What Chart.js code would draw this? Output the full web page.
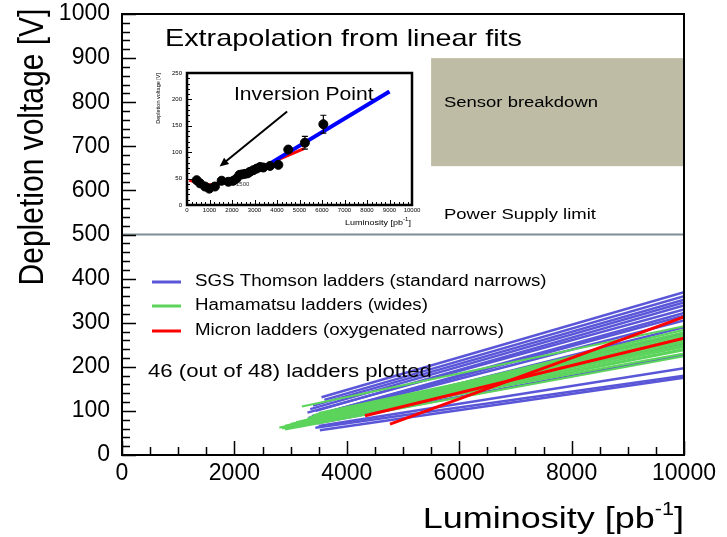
<!DOCTYPE html>
<html>
<head>
<meta charset="utf-8">
<script src="https://cdn.jsdelivr.net/npm/chart.js@4.4.0/dist/chart.umd.min.js"></script>
<style>
  html, body { margin: 0; padding: 0; background: #fff; }
  #wrap { position: relative; width: 727px; height: 537px; overflow: hidden; }
  #main { position: absolute; left: 0; top: 0; }
  #inset { position: absolute; left: 150px; top: 60px; }
</style>
</head>
<body>
<div id="wrap">
  <canvas id="main" width="727" height="537"></canvas>
  <canvas id="inset" width="275" height="172"></canvas>
</div>
<script>
// ---- main plot data: each ladder fit is [start luminosity, start voltage, voltage at 10000 pb-1]
const lumiEnd = 10000;
const sgsLadders = [
  [3550, 131, 369], [3600, 125, 360], [3400, 112, 352], [3350, 104, 346],
  [3450, 100, 339], [3300, 96, 330], [3500, 92, 322], [3380, 88, 316],
  [3320, 84, 305], [3450, 80, 290], [3500, 76, 276], [3400, 82, 252],
  [3470, 72, 227], [3500, 66, 197], [3440, 62, 180], [3520, 56, 175]
];
const hamamatsuLadders = [
  [2800, 62, 250], [2850, 60, 238], [2900, 66, 262], [2950, 64, 245],
  [3000, 70, 273], [3050, 68, 255], [3100, 74, 284], [3150, 72, 230],
  [3200, 110, 292], [3250, 78, 266], [3300, 82, 278], [3350, 86, 248],
  [3400, 90, 258], [2900, 58, 224], [3000, 63, 240], [3500, 95, 270]
];
const micronLadders = [
  [4324, 89, 265], [4769, 70, 313]
];
const powerSupplyLimit = 500;
const sensorBreakdown = { lumiFrom: 5500, lumiTo: 10000, vFrom: 655, vTo: 900 };

// ---- inset data
const insetLumi = [430, 580, 800, 990, 1240, 1540, 1840, 2060, 2200, 2330, 2450, 2580, 2700, 2800, 2950, 3100, 3250, 3390, 3690, 4060, 4500, 5240, 6060];
const insetVdep = [47, 41, 35, 31, 35, 46, 44, 46, 50, 57, 58, 59, 60, 63, 66, 69, 72, 71, 74, 76, 105, 118, 153];
const insetErr  = [3, 3, 3, 3, 3, 3, 3, 3, 3, 3, 3, 3, 3, 3, 3, 3, 3, 3, 3, 3, 5, 12, 17];
const redFitLumi = [100, 1000, 2000, 3000, 4000, 5200];
const redFitVdep = [47, 38, 46, 64, 85, 107];
const blueFitLumi = [3200, 9000];
const blueFitVdep = [66, 215];

const FONT = '"Liberation Sans", Arial, Helvetica, sans-serif';
const SGS_COLOR = '#5a56d8';
const HAM_COLOR = '#5cd45c';
const MIC_COLOR = '#ff0000';
const plainNumber = v => String(v);

// fixed axis thickness, and no extra room for label overflow
function fixSize(prop, size) {
  return s => {
    s[prop] = size;
    s.paddingTop = 0; s.paddingBottom = 0; s.paddingLeft = 0; s.paddingRight = 0;
  };
}

function stretchText(ctx, str, x, y, size, align, sx) {
  ctx.save();
  ctx.font = size + 'px ' + FONT;
  ctx.textAlign = align || 'left';
  ctx.textBaseline = 'middle';
  ctx.fillStyle = '#000';
  ctx.translate(x, y);
  ctx.scale(sx || 1.2, 1);
  ctx.fillText(str, 0, 0);
  ctx.restore();
}

function ladderDatasets(rows, color, width) {
  return rows.map(([x0, y0, y1]) => ({
    data: [{ x: x0, y: y0 }, { x: lumiEnd, y: y1 }],
    showLine: true, borderColor: color, borderWidth: width,
    pointRadius: 0, fill: false
  }));
}

// first dataset is painted last, so red ends up on top
const mainDatasets = [
  ...ladderDatasets(micronLadders, MIC_COLOR, 3),
  ...ladderDatasets(hamamatsuLadders, HAM_COLOR, 2.2),
  ...ladderDatasets(sgsLadders, SGS_COLOR, 2.5),
  {
    data: [{ x: 0, y: powerSupplyLimit }, { x: lumiEnd, y: powerSupplyLimit }],
    showLine: true, borderColor: '#7d8e94', borderWidth: 2, pointRadius: 0
  }
];

const mainDecor = {
  id: 'mainDecor',
  beforeDatasetsDraw(chart) {
    const { ctx, scales: { x, y } } = chart;
    const b = sensorBreakdown;
    ctx.save();
    ctx.fillStyle = '#bfbca6';
    const x0 = x.getPixelForValue(b.lumiFrom), x1 = x.getPixelForValue(b.lumiTo);
    const y0 = y.getPixelForValue(b.vTo), y1 = y.getPixelForValue(b.vFrom);
    ctx.fillRect(x0, y0, x1 - x0, y1 - y0);
    ctx.restore();
  },
  afterDraw(chart) {
    const { ctx, chartArea: a, scales: { x, y } } = chart;
    ctx.save();
    // frame
    ctx.strokeStyle = '#000';
    ctx.lineWidth = 2;
    ctx.strokeRect(a.left, a.top, a.right - a.left, a.bottom - a.top);
    // inward ticks
    ctx.lineWidth = 1.5;
    ctx.beginPath();
    for (let v = 0; v <= 1000; v += 20) {
      const py = Math.round(y.getPixelForValue(v)) + 0.5;
      const len = v % 100 === 0 ? 14 : 8;
      ctx.moveTo(a.left, py); ctx.lineTo(a.left + len, py);
    }
    for (let v = 0; v <= 10000; v += 500) {
      const px = Math.round(x.getPixelForValue(v)) + 0.5;
      const len = v % 2000 === 0 ? 14 : 8;
      ctx.moveTo(px, a.bottom); ctx.lineTo(px, a.bottom - len);
    }
    ctx.stroke();

    // legend samples
    const legend = [
      [SGS_COLOR, 'SGS Thomson ladders (standard narrows)', 282],
      [HAM_COLOR, 'Hamamatsu ladders (wides)', 306],
      [MIC_COLOR, 'Micron ladders (oxygenated narrows)', 331]
    ];
    legend.forEach(([c, label, py]) => {
      ctx.strokeStyle = c; ctx.lineWidth = 3;
      ctx.beginPath(); ctx.moveTo(152, py); ctx.lineTo(181, py); ctx.stroke();
      stretchText(ctx, label, 195, py, 15.6, 'left', 1.2);
    });
    stretchText(ctx, '46 (out of 48) ladders plotted', 148, 372, 18.5, 'left', 1.2);
    stretchText(ctx, 'Extrapolation from linear fits', 165, 39, 24, 'left', 1.2);
    stretchText(ctx, 'Sensor breakdown', 444, 103, 15.4, 'left', 1.2);
    stretchText(ctx, 'Power Supply limit', 444, 215, 15.4, 'left', 1.2);

    // axis titles
    ctx.fillStyle = '#000';
    ctx.textBaseline = 'middle';
    ctx.font = '30px ' + FONT;
    const main = 'Luminosity [pb', tail = ']';
    const supFont = '18px ' + FONT;
    const wMain = ctx.measureText(main).width, wTail = ctx.measureText(tail).width;
    ctx.font = supFont;
    const wSup = ctx.measureText('-1').width;
    const sx = 1.2;
    let px = a.right - (wMain + wSup + wTail) * sx;
    ctx.save();
    ctx.translate(px, 520); ctx.scale(sx, 1);
    ctx.font = '30px ' + FONT; ctx.fillText(main, 0, 0);
    ctx.font = supFont; ctx.fillText('-1', wMain, -10);
    ctx.font = '30px ' + FONT; ctx.fillText(tail, wMain + wSup, 0);
    ctx.restore();

    ctx.save();
    ctx.translate(33, 147); ctx.scale(1.15, 1); ctx.rotate(-Math.PI / 2);
    ctx.font = '30px ' + FONT; ctx.textAlign = 'center';
    ctx.fillText('Depletion voltage [V]', 0, 0);
    ctx.restore();
    ctx.restore();
  }
};

new Chart(document.getElementById('main'), {
  type: 'scatter',
  data: { datasets: mainDatasets },
  options: {
    responsive: false,
    animation: false,
    layout: { padding: { left: 0, top: 14, right: 43, bottom: 0 } },
    plugins: { legend: { display: false }, tooltip: { enabled: false } },
    scales: {
      x: {
        type: 'linear', min: 0, max: lumiEnd,
        afterFit: fixSize('height', 82),
        grid: { display: false, drawTicks: false },
        border: { display: false },
        ticks: { stepSize: 2000, autoSkip: false, maxRotation: 0, padding: 5, color: '#000', callback: plainNumber, font: { family: FONT, size: 23 } }
      },
      y: {
        type: 'linear', min: 0, max: 1000,
        afterFit: fixSize('width', 122),
        grid: { display: false, drawTicks: false },
        border: { display: false },
        ticks: { stepSize: 100, autoSkip: false, padding: 12, color: '#000', callback: plainNumber, font: { family: FONT, size: 23 } }
      }
    }
  },
  plugins: [mainDecor]
});

// ---- inset
const insetOffset = { left: 150, top: 60 };
const insetDecor = {
  id: 'insetDecor',
  beforeDatasetsDraw(chart) {
    const { ctx } = chart;
    ctx.save();
    ctx.fillStyle = '#333';
    ctx.font = '6px ' + FONT;
    ctx.textBaseline = 'middle';
    ctx.fillText('range 400-1500', 207 - insetOffset.left, 184 - insetOffset.top);
    ctx.restore();
  },
  afterDatasetsDraw(chart) {
    const { ctx, scales: { x, y } } = chart;
    ctx.save();
    ctx.strokeStyle = '#000';
    ctx.lineWidth = 1.2;
    insetLumi.forEach((l, i) => {
      const e = insetErr[i];
      if (e < 8) return;
      const px = x.getPixelForValue(l);
      const top = y.getPixelForValue(insetVdep[i] + e), bot = y.getPixelForValue(insetVdep[i] - e);
      ctx.beginPath();
      ctx.moveTo(px, top); ctx.lineTo(px, bot);
      ctx.moveTo(px - 3, top); ctx.lineTo(px + 3, top);
      ctx.moveTo(px - 3, bot); ctx.lineTo(px + 3, bot);
      ctx.stroke();
    });
    ctx.restore();
  },
  afterDraw(chart) {
    const { ctx, chartArea: a, scales: { x, y } } = chart;
    ctx.save();
    ctx.strokeStyle = '#000';
    ctx.lineWidth = 2.5;
    ctx.strokeRect(a.left, a.top, a.right - a.left, a.bottom - a.top);
    ctx.lineWidth = 1;
    ctx.beginPath();
    for (let v = 0; v <= 250; v += 10) {
      const py = Math.round(y.getPixelForValue(v)) + 0.5;
      ctx.moveTo(a.left, py); ctx.lineTo(a.left + (v % 50 === 0 ? 5 : 3), py);
    }
    for (let v = 0; v <= 10000; v += 200) {
      const px = Math.round(x.getPixelForValue(v)) + 0.5;
      ctx.moveTo(px, a.bottom); ctx.lineTo(px, a.bottom - (v % 1000 === 0 ? 5 : 3));
    }
    ctx.stroke();

    // arrow towards the inversion point
    const ax0 = x.getPixelForValue(4450), ay0 = y.getPixelForValue(177);
    const ax1 = x.getPixelForValue(1450), ay1 = y.getPixelForValue(73);
    const ang = Math.atan2(ay1 - ay0, ax1 - ax0);
    ctx.lineWidth = 2;
    ctx.beginPath(); ctx.moveTo(ax0, ay0); ctx.lineTo(ax1 - 5 * Math.cos(ang), ay1 - 5 * Math.sin(ang)); ctx.stroke();
    ctx.fillStyle = '#000';
    ctx.beginPath();
    ctx.moveTo(ax1, ay1);
    ctx.lineTo(ax1 - 9 * Math.cos(ang) + 4 * Math.sin(ang), ay1 - 9 * Math.sin(ang) - 4 * Math.cos(ang));
    ctx.lineTo(ax1 - 9 * Math.cos(ang) - 4 * Math.sin(ang), ay1 - 9 * Math.sin(ang) + 4 * Math.cos(ang));
    ctx.closePath(); ctx.fill();

    stretchText(ctx, 'Inversion Point', 234 - insetOffset.left, 95 - insetOffset.top, 17.6, 'left', 1.2);

    // axis titles
    ctx.font = '7.5px ' + FONT;
    ctx.textBaseline = 'middle';
    const t = 'Luminosity [pb', wt = ctx.measureText(t).width;
    ctx.font = '5px ' + FONT; const ws = ctx.measureText('-1').width;
    ctx.save();
    ctx.translate(a.right - (wt + ws + 3) * 1.2, 223 - insetOffset.top); ctx.scale(1.2, 1);
    ctx.font = '7.5px ' + FONT; ctx.fillText(t, 0, 0);
    ctx.font = '5px ' + FONT; ctx.fillText('-1', wt, -3);
    ctx.font = '7.5px ' + FONT; ctx.fillText(']', wt + ws, 0);
    ctx.restore();

    ctx.save();
    ctx.translate(8, a.top); ctx.rotate(-Math.PI / 2);
    ctx.font = '5.5px ' + FONT; ctx.textAlign = 'right'; ctx.textBaseline = 'middle';
    ctx.fillText('Depletion voltage [V]', 0, 0);
    ctx.restore();
    ctx.restore();
  }
};

new Chart(document.getElementById('inset'), {
  type: 'scatter',
  data: {
    datasets: [
      {
        data: insetLumi.map((l, i) => ({ x: l, y: insetVdep[i] })),
        pointRadius: 4.5, pointBackgroundColor: '#000', pointBorderColor: '#000', showLine: false
      },
      {
        data: blueFitLumi.map((l, i) => ({ x: l, y: blueFitVdep[i] })),
        showLine: true, borderColor: '#0000ff', borderWidth: 4, pointRadius: 0
      },
      {
        data: redFitLumi.map((l, i) => ({ x: l, y: redFitVdep[i] })),
        showLine: true, borderColor: '#ff0000', borderWidth: 3, pointRadius: 0
      }
    ]
  },
  options: {
    responsive: false,
    animation: false,
    layout: { padding: { left: 0, top: 13, right: 13, bottom: 0 } },
    plugins: { legend: { display: false }, tooltip: { enabled: false } },
    scales: {
      x: {
        type: 'linear', min: 0, max: 10000,
        afterFit: fixSize('height', 27),
        grid: { display: false, drawTicks: false },
        border: { display: false },
        ticks: { stepSize: 1000, autoSkip: false, maxRotation: 0, padding: 2, color: '#000', callback: plainNumber, font: { family: FONT, size: 6 } }
      },
      y: {
        type: 'linear', min: 0, max: 250,
        afterFit: fixSize('width', 37),
        grid: { display: false, drawTicks: false },
        border: { display: false },
        ticks: { stepSize: 50, autoSkip: false, padding: 5, color: '#000', callback: plainNumber, font: { family: FONT, size: 6 } }
      }
    }
  },
  plugins: [insetDecor]
});
</script>
</body>
</html>
